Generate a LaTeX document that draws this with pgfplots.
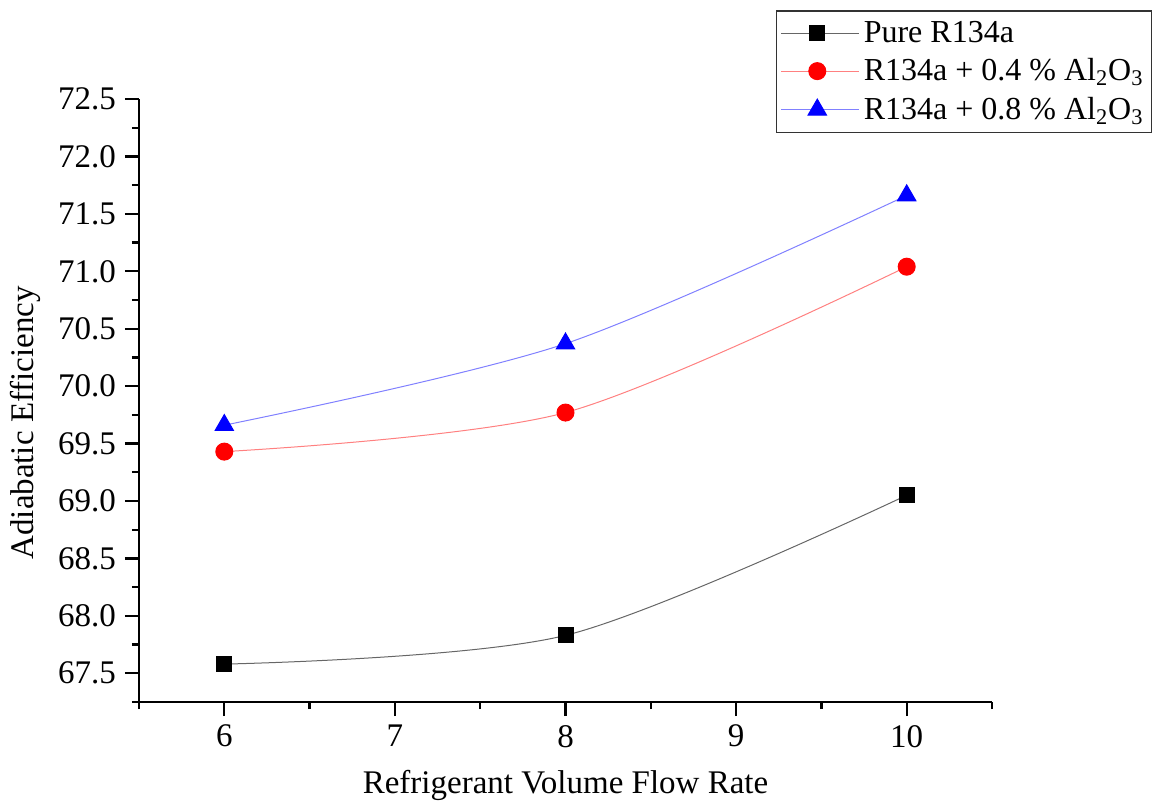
\documentclass[border=0pt]{standalone}
\usepackage{fontspec}
\setmainfont{Liberation Serif}
\usepackage{pgfplots}
\pgfplotsset{compat=1.18}
\begin{document}
\begin{tikzpicture}[font=\fontsize{16.5pt}{19pt}\selectfont]
\useasboundingbox (-69.5pt,-49pt) rectangle (506.5pt,351pt);
\begin{axis}[
  at={(0,0)}, anchor=south west,
  scale only axis, width=426.5pt, height=301.5pt,
  xmin=5.5, xmax=10.5, ymin=67.25, ymax=72.5,
  axis lines=left,
  axis line style={-, line width=1.2pt, black},
  xtick={6,7,8,9,10},
  minor xtick={5.5,6.5,7.5,8.5,9.5,10.5},
  ytick={67.5,68,68.5,69,69.5,70,70.5,71,71.5,72,72.5},
  minor ytick={67.25,67.75,68.25,68.75,69.25,69.75,70.25,70.75,71.25,71.75,72.25},
  tick align=outside,
  major tick length=7pt, minor tick length=3.5pt,
  major tick style={black, line width=1.2pt},
  minor tick style={black, line width=1.2pt},
  /pgf/number format/assume math mode=true,
  tick label style={font=\fontsize{16.5pt}{19pt}\selectfont},
  yticklabel style={xshift=-1pt, /pgf/number format/fixed, /pgf/number format/fixed zerofill, /pgf/number format/precision=1},
  xticklabel style={yshift=-1pt},
  xlabel={Refrigerant Volume Flow Rate},
  ylabel={Adiabatic Efficiency},
  xlabel style={at={(axis description cs:0.5,-0.1376)}, anchor=center},
  ylabel style={at={(axis description cs:-0.1336,0.463)}, anchor=center},
  legend style={at={(axis description cs:0.747,1.147)}, anchor=north west,
    draw=black!80, line width=0.6pt, fill=white,
    font=\fontsize{16pt}{19pt}\selectfont,
    inner xsep=2pt, inner ysep=3pt, row sep=2.7pt,
    cells={anchor=west}},
  legend image code/.code={\path (0pt,0pt) -- (39pt,0pt);\draw[mark repeat=2,mark phase=2, line width=0.5pt] plot coordinates {(0pt,0pt) (18pt,0pt) (36pt,0pt)};},
]
\addplot[smooth, color=black!60, line width=0.5pt, mark=square*, mark size=3.75pt, mark options={fill=black, draw=black, solid}]
  coordinates {(6,67.58) (8,67.83) (10,69.05)};
\addlegendentry{Pure R134a}
\addplot[smooth, color=red!50, line width=0.5pt, mark=*, mark size=4.25pt, mark options={fill=red, draw=red, solid}]
  coordinates {(6,69.43) (8,69.77) (10,71.04)};
\addlegendentry{R134a + 0.4 \% Al\textsubscript{2}O\textsubscript{3}}
\addplot[smooth, color=blue!50, line width=0.5pt, mark=triangle*, mark size=5.3pt, mark options={fill=blue, draw=blue, solid}]
  coordinates {(6,69.66) (8,70.37) (10,71.66)};
\addlegendentry{R134a + 0.8 \% Al\textsubscript{2}O\textsubscript{3}}
\end{axis}
\end{tikzpicture}
\end{document}
